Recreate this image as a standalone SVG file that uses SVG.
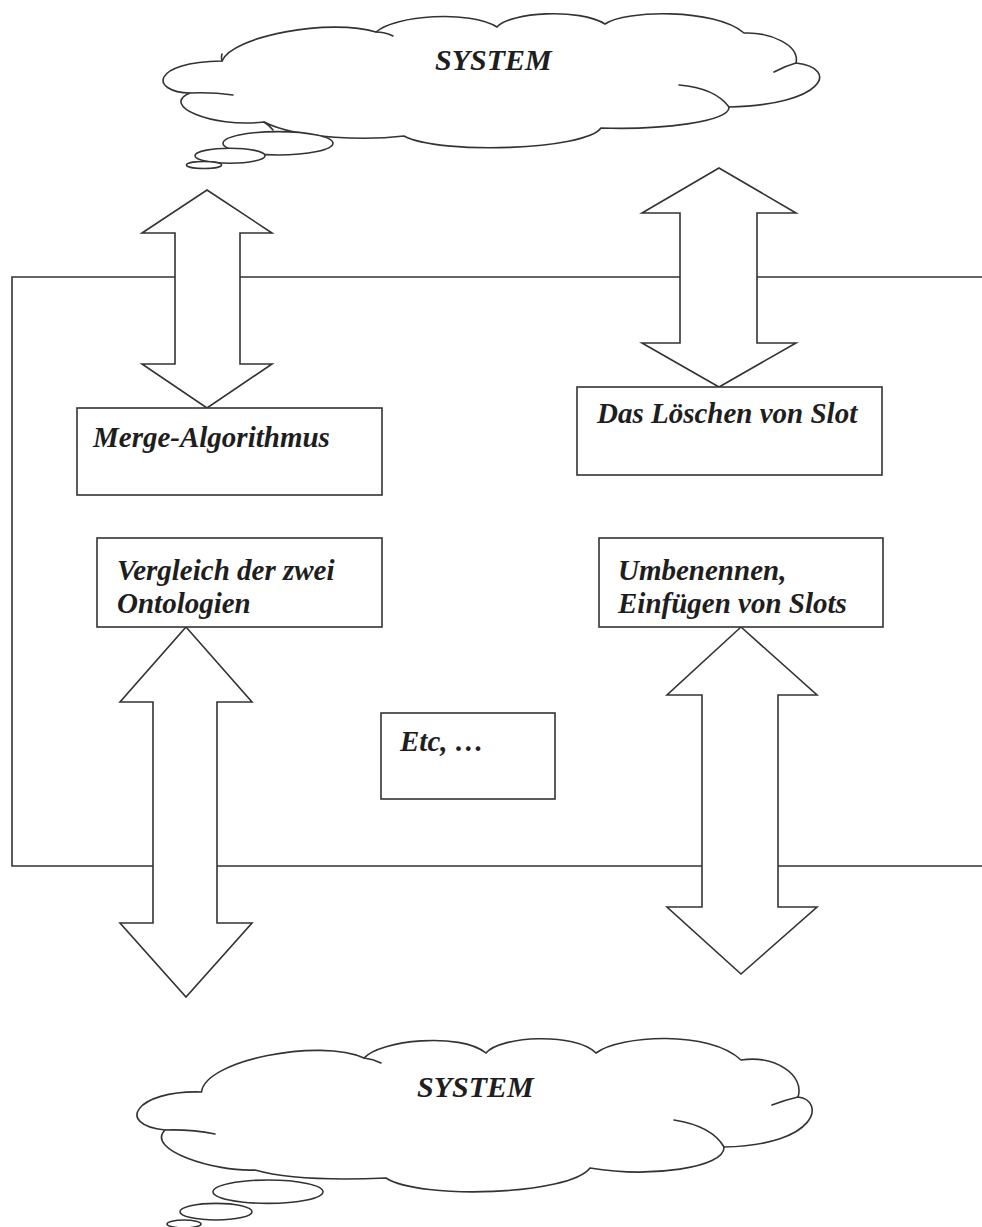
<svg xmlns="http://www.w3.org/2000/svg" width="982" height="1227" viewBox="0 0 982 1227">
  <defs>
    <style>
      .shape { fill: #ffffff; stroke: #333333; stroke-width: 1.6; stroke-linejoin: miter; }
      .open { fill: none; stroke: #333333; stroke-width: 1.6; stroke-linecap: round; }
      .label { font-family: "Liberation Serif", "Times New Roman", serif; font-style: italic; font-weight: bold; font-size: 29px; fill: #1e1e1e; }
      .title { font-size: 30px; }
    </style>
  </defs>

  <rect x="0" y="0" width="982" height="1227" fill="#ffffff"/>

  <!-- Outer frame, open on the right side -->
  <g id="frame">
    <path class="open" d="M 990 277 H 12 V 866 H 990" stroke-linecap="butt"/>
  </g>

  <!-- Upper thought cloud -->
  <g id="cloud-top">
    <path class="shape" d="M 222 61
      C 232 36 330 18 376 32
      C 395 15 470 10 497 27
      C 510 12 580 8 605 24
      C 625 10 715 8 744 33
      C 770 32 800 45 796 63
      C 840 68 825 105 729 107
      C 730 122 660 130 601 128
      C 585 150 440 155 404 136
      C 370 140 300 140 264 122
      C 210 128 160 105 190 93
      C 150 92 150 62 222 61 Z"/>
    <path class="open" d="M 190 93 Q 212 92 233 95 M 796 63 Q 785 66 774 72 M 679 85 Q 715 88 729 107 M 376 32 Q 385 32 393 36 M 222 61 Q 221 57 222 54 M 264 122 Q 269 125 273 130"/>
    <ellipse class="shape" cx="278" cy="143.3" rx="55" ry="11.7"/>
    <ellipse class="shape" cx="230" cy="155.7" rx="35" ry="7.5"/>
    <ellipse class="shape" cx="204" cy="165" rx="17.5" ry="3.5"/>
    <text class="label title" x="435" y="70">SYSTEM</text>
  </g>

  <!-- Lower thought cloud -->
  <g id="cloud-bottom">
    <path class="shape" d="M 201.5 1092
      C 205 1060 320 1038 364 1058
      C 380 1040 460 1032 486 1053
      C 500 1036 575 1032 596 1053
      C 620 1035 710 1030 741 1060
      C 775 1055 805 1075 798 1097
      C 825 1100 820 1145 724 1147
      C 725 1168 650 1178 590 1168
      C 570 1195 420 1200 386 1178
      C 340 1180 290 1180 255 1170
      C 215 1172 145 1150 165 1130
      C 115 1125 135 1090 201.5 1092 Z"/>
    <path class="open" d="M 165 1130 Q 190 1129 215 1134 M 798 1097 Q 785 1100 772 1105 M 674 1120 Q 712 1126 724 1147 M 364 1058 Q 373 1059 381 1063"/>
    <ellipse class="shape" cx="268" cy="1191.7" rx="55" ry="11.7"/>
    <ellipse class="shape" cx="216" cy="1211.7" rx="36" ry="8.3"/>
    <ellipse class="shape" cx="184" cy="1224" rx="17" ry="4"/>
    <text class="label title" x="417" y="1097">SYSTEM</text>
  </g>

  <!-- Double-headed block arrows -->
  <g id="connectors">
    <polygon id="arrow-merge" class="shape" points="207,190 272,233 240,233 240,364 272,364 207,408 142,364 175,364 175,233 142,233"/>
    <polygon id="arrow-loeschen" class="shape" points="719,168 796,213 757,213 757,343 796,343 719,387 642,343 680,343 680,213 642,213"/>
    <polygon id="arrow-vergleich" class="shape" points="186,627 252,702 217,702 217,923 252,923 186,997 120,923 153,923 153,702 120,702"/>
    <polygon id="arrow-umbenennen" class="shape" points="741,627 817,695 778,695 778,907 817,907 741,974 667,907 702,907 702,695 667,695"/>
  </g>

  <g id="box-merge">
    <rect class="shape" x="77" y="408" width="305" height="87"/>
    <text class="label" x="93" y="447">Merge-Algorithmus</text>
  </g>

  <g id="box-loeschen">
    <rect class="shape" x="577" y="387" width="305" height="88"/>
    <text class="label" x="597" y="423">Das Löschen von Slot</text>
  </g>

  <g id="box-vergleich">
    <rect class="shape" x="97" y="538" width="285" height="89"/>
    <text class="label" x="117" y="580">Vergleich der zwei</text>
    <text class="label" x="117" y="613">Ontologien</text>
  </g>

  <g id="box-umbenennen">
    <rect class="shape" x="599" y="538" width="284" height="89"/>
    <text class="label" x="618" y="580">Umbenennen,</text>
    <text class="label" x="618" y="613">Einfügen von Slots</text>
  </g>

  <g id="box-etc">
    <rect class="shape" x="381" y="713" width="174" height="86"/>
    <text class="label" x="400" y="751">Etc, …</text>
  </g>
</svg>
